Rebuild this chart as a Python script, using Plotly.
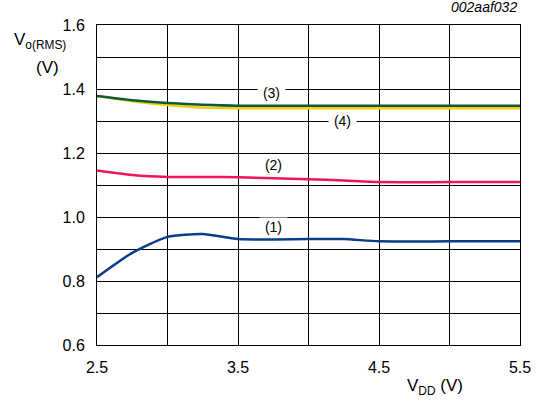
import plotly.graph_objects as go

vdd = [2.5, 2.75, 3.0, 3.25, 3.5, 4.0, 4.25, 4.5, 5.0, 5.5]
curve1 = [0.812, 0.888, 0.938, 0.947, 0.931, 0.931, 0.931, 0.924, 0.924, 0.924]
curve2 = [1.145, 1.131, 1.125, 1.125, 1.124, 1.118, 1.114, 1.109, 1.109, 1.109]
curve3 = [1.378, 1.365, 1.356, 1.351, 1.348, 1.348, 1.348, 1.348, 1.348, 1.348]
curve4 = [1.378, 1.362, 1.350, 1.342, 1.340, 1.340, 1.340, 1.340, 1.340, 1.340]

series = [
    ("(1)", curve1, "#0a3c8c"),
    ("(2)", curve2, "#f0145a"),
    ("(4)", curve4, "#f2cf00"),
    ("(3)", curve3, "#0b5a3a"),
]
labels = [("(3)", 3.74, 1.387), ("(4)", 4.24, 1.300), ("(2)", 3.75, 1.163), ("(1)", 3.75, 0.970)]

y_ticks = [0.6, 0.7, 0.8, 0.9, 1.0, 1.1, 1.2, 1.3, 1.4, 1.5, 1.6]
y_text = ["0.6", "", "0.8", "", "1.0", "", "1.2", "", "1.4", "", "1.6"]
x_ticks = [2.5, 3.0, 3.5, 4.0, 4.5, 5.0, 5.5]
x_text = ["2.5", "", "3.5", "", "4.5", "", "5.5"]

fig = go.Figure()
for name, ys, col in series:
    fig.add_trace(go.Scatter(x=vdd, y=ys, mode="lines", name=name,
                             line=dict(color=col, width=2.5, shape="spline", smoothing=0.6),
                             showlegend=False, hoverinfo="skip"))

for txt, x, y in labels:
    fig.add_annotation(x=x, y=y, text="&nbsp;" + txt + "&nbsp;", showarrow=False, bgcolor="white",
                       borderpad=1, font=dict(size=14, color="black"))

font = "Liberation Sans, Arial, Helvetica, sans-serif"
fig.add_annotation(xref="paper", yref="paper", x=-0.2, y=0.91, xanchor="left", yanchor="bottom",
                   text="V<sub>o(RMS)</sub>", showarrow=False, font=dict(size=17, color="black"))
fig.add_annotation(xref="paper", yref="paper", x=-0.15, y=0.83, xanchor="left", yanchor="bottom",
                   text="(V)", showarrow=False, font=dict(size=17, color="black"))
fig.add_annotation(xref="paper", yref="paper", x=0.87, y=-0.09, xanchor="right", yanchor="top",
                   text="V<sub>DD</sub> (V)", showarrow=False, font=dict(size=17, color="black"))
fig.add_annotation(xref="paper", yref="paper", x=0.997, y=1.025, xanchor="right", yanchor="bottom",
                   text="<i>002aaf032</i>", showarrow=False, font=dict(size=14, color="black"))

fig.update_xaxes(range=[2.5, 5.5], tickvals=x_ticks, ticktext=x_text, showgrid=True,
                 gridcolor="black", gridwidth=1, showline=True, linecolor="black", linewidth=1,
                 mirror=True, zeroline=False, ticks="", ticklabelstandoff=8,
                 tickfont=dict(size=16, color="black"))
fig.update_yaxes(range=[0.6, 1.6], tickvals=y_ticks, ticktext=y_text, showgrid=True,
                 gridcolor="black", gridwidth=1, showline=True, linecolor="black", linewidth=1,
                 mirror=True, zeroline=False, ticks="", ticklabelstandoff=8,
                 tickfont=dict(size=16, color="black"))

fig.update_layout(width=543, height=402, margin=dict(l=97, r=20, t=25, b=57),
                  paper_bgcolor="white", plot_bgcolor="white",
                  font=dict(family=font, color="black"))
fig.write_html("out.html", config={"displayModeBar": False},
               post_script="document.body.style.margin='0';")
